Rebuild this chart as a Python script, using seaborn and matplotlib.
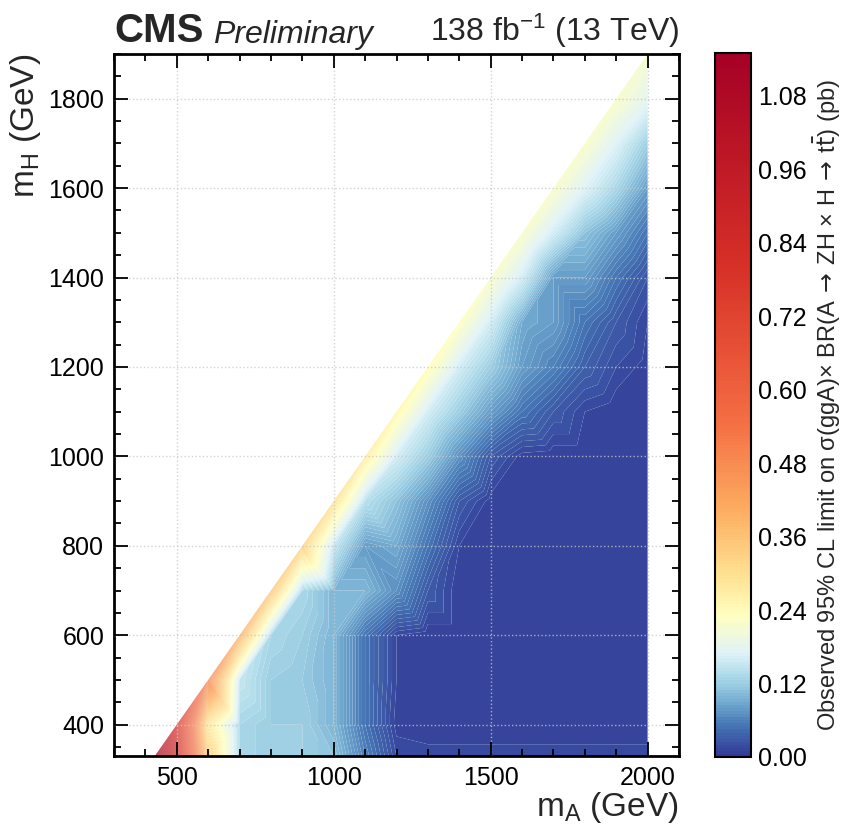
import numpy as np
import pandas as pd
import matplotlib
matplotlib.use("Agg")
import matplotlib.pyplot as plt
import matplotlib.tri as mtri
from matplotlib.colors import LinearSegmentedColormap
from matplotlib.ticker import MultipleLocator
import seaborn as sns

nan = np.nan

# Signal mass grid (GeV)
m_A = [430, 500, 600, 700, 800, 900, 1000, 1100, 1200, 1300, 1400, 1500,
       1600, 1700, 1800, 1900, 2000]
m_H = [330, 400, 500, 600, 700, 800, 900, 1000, 1100, 1200, 1300, 1400,
       1500, 1600, 1700, 1800, 1900]

# Observed 95% CL upper limits (pb); one row per m_H, one column per m_A
limit_pb = [
    [1.12, 0.85, 0.33, 0.13, 0.12, 0.12, 0.11, 0.06, 0.02, 0.018, 0.018, 0.018, 0.018, 0.018, 0.018, 0.018, 0.018],
    [nan, 0.82, 0.28, 0.13, 0.12, 0.12, 0.10, 0.05, 0.012, 0.01, 0.01, 0.01, 0.01, 0.01, 0.01, 0.01, 0.01],
    [nan, nan, 0.50, 0.15, 0.12, 0.115, 0.10, 0.05, 0.015, 0.01, 0.01, 0.01, 0.01, 0.01, 0.01, 0.01, 0.01],
    [nan, nan, nan, 0.40, 0.13, 0.12, 0.10, 0.05, 0.015, 0.01, 0.01, 0.01, 0.01, 0.01, 0.01, 0.01, 0.01],
    [nan, nan, nan, nan, 0.36, 0.13, 0.10, 0.10, 0.07, 0.03, 0.01, 0.01, 0.01, 0.01, 0.01, 0.01, 0.01],
    [nan, nan, nan, nan, nan, 0.33, 0.15, 0.08, 0.09, 0.05, 0.015, 0.01, 0.01, 0.01, 0.01, 0.01, 0.01],
    [nan, nan, nan, nan, nan, nan, 0.30, 0.14, 0.11, 0.07, 0.03, 0.012, 0.01, 0.01, 0.01, 0.01, 0.01],
    [nan, nan, nan, nan, nan, nan, nan, 0.27, 0.16, 0.12, 0.07, 0.03, 0.012, 0.01, 0.01, 0.01, 0.01],
    [nan, nan, nan, nan, nan, nan, nan, nan, 0.25, 0.16, 0.12, 0.08, 0.05, 0.03, 0.015, 0.01, 0.01],
    [nan, nan, nan, nan, nan, nan, nan, nan, nan, 0.24, 0.16, 0.12, 0.08, 0.06, 0.035, 0.02, 0.012],
    [nan, nan, nan, nan, nan, nan, nan, nan, nan, nan, 0.23, 0.16, 0.09, 0.08, 0.05, 0.03, 0.015],
    [nan, nan, nan, nan, nan, nan, nan, nan, nan, nan, nan, 0.22, 0.16, 0.08, 0.08, 0.05, 0.025],
    [nan, nan, nan, nan, nan, nan, nan, nan, nan, nan, nan, nan, 0.22, 0.16, 0.11, 0.08, 0.05],
    [nan, nan, nan, nan, nan, nan, nan, nan, nan, nan, nan, nan, nan, 0.22, 0.17, 0.13, 0.08],
    [nan, nan, nan, nan, nan, nan, nan, nan, nan, nan, nan, nan, nan, nan, 0.22, 0.17, 0.12],
    [nan, nan, nan, nan, nan, nan, nan, nan, nan, nan, nan, nan, nan, nan, nan, 0.22, 0.18],
    [nan, nan, nan, nan, nan, nan, nan, nan, nan, nan, nan, nan, nan, nan, nan, nan, 0.21],
]

# Colour scale: value stops (pb) and colours
z_max = 1.15
cmap_stops = [0.0, 0.05, 0.09, 0.13, 0.17, 0.23, 0.30, 0.40, 0.55, 0.80, 1.15]
cmap_colors = ["#313695", "#4575b4", "#74add1", "#abd9e9", "#e0f3f8", "#ffffbf",
               "#fee090", "#fdae61", "#f46d43", "#d73027", "#a50026"]
cbar_ticks = [0.00, 0.12, 0.24, 0.36, 0.48, 0.60, 0.72, 0.84, 0.96, 1.08]

# Long-format table of the valid grid points
records = []
for i, mh in enumerate(m_H):
    for j, ma in enumerate(m_A):
        v = limit_pb[i][j]
        if not np.isnan(v):
            records.append({"mA": ma, "mH": mh, "limit": v})
df = pd.DataFrame(records)

sns.set_theme(style="ticks")
plt.rcParams["font.family"] = ["Liberation Sans", "DejaVu Sans"]
plt.rcParams["mathtext.fontset"] = "custom"
plt.rcParams["mathtext.rm"] = "Liberation Sans"
plt.rcParams["mathtext.it"] = "Liberation Sans:italic"
plt.rcParams["mathtext.bf"] = "Liberation Sans:bold"

cmap = LinearSegmentedColormap.from_list(
    "limit", list(zip(np.array(cmap_stops) / z_max, cmap_colors)), N=512)

fig = plt.figure(figsize=(8.42, 8.27), dpi=100)
ax = fig.add_axes([114 / 842, 71 / 827, 565 / 842, 702 / 827])
cax = fig.add_axes([715 / 842, 70 / 827, 36 / 842, 704 / 827])

tri = mtri.Triangulation(df["mA"].to_numpy(float), df["mH"].to_numpy(float))
levels = np.linspace(0.0, z_max, 231)
cs = ax.tricontourf(tri, df["limit"].to_numpy(float), levels=levels, cmap=cmap,
                    vmin=0.0, vmax=z_max, antialiased=True)

ax.set_xlim(300, 2100)
ax.set_ylim(330, 1900)
ax.xaxis.set_major_locator(MultipleLocator(500))
ax.xaxis.set_minor_locator(MultipleLocator(100))
ax.yaxis.set_major_locator(MultipleLocator(200))
ax.yaxis.set_minor_locator(MultipleLocator(50))
ax.tick_params(which="both", direction="in", top=True, right=True, width=1.3,
               labelsize=18, colors="black")
ax.tick_params(which="major", length=10, pad=7)
ax.tick_params(which="minor", length=5)
for s in ax.spines.values():
    s.set_linewidth(2)
    s.set_color("black")
ax.set_axisbelow(False)
ax.grid(True, which="major", color="#c8c8c8", linestyle=":", linewidth=1.0, alpha=0.8)

ax.set_xlabel(r"m$_{\rm A}$ (GeV)", fontsize=24, loc="right", labelpad=0)
ax.set_ylabel(r"m$_{\rm H}$ (GeV)", fontsize=24, loc="top", labelpad=4)

ax.text(0.0, 1.006, "CMS", transform=ax.transAxes, fontsize=29,
        fontweight="bold", ha="left", va="bottom")
ax.text(0.176, 1.006, "Preliminary", transform=ax.transAxes, fontsize=23,
        fontstyle="italic", ha="left", va="bottom")
ax.text(1.0, 1.006, r"138 fb$^{-1}$ (13 TeV)", transform=ax.transAxes,
        fontsize=23, ha="right", va="bottom")

cb = fig.colorbar(cs, cax=cax, ticks=cbar_ticks)
cb.outline.set_linewidth(1.5)
cb.outline.set_edgecolor("black")
cax.set_yticklabels([f"{t:.2f}" for t in cbar_ticks])
cax.yaxis.set_minor_locator(MultipleLocator(0.03))
cax.tick_params(which="both", direction="in", right=True, left=False,
                labelsize=18, width=1.2, colors="black")
cax.tick_params(which="major", length=10, pad=5)
cax.tick_params(which="minor", length=5)
cax.set_ylabel("Observed 95% CL limit on σ(ggA)× BR(A$\\,\\rightarrow\\,$ZH × H$\\,\\rightarrow\\,$t$\\bar{\\rm t}$) (pb)",
               fontsize=17, labelpad=3, math_fontfamily="dejavusans")

fig.savefig("out.png", dpi=100)
